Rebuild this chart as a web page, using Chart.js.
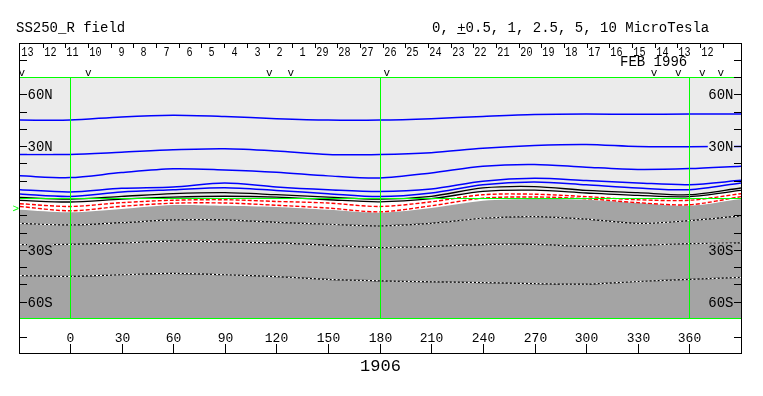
<!DOCTYPE html>
<html>
<head>
<meta charset="utf-8">
<script src="https://cdn.jsdelivr.net/npm/chart.js@4"></script>
<style>
  html, body { margin: 0; padding: 0; background: #fff; }
  #wrap { position: relative; width: 763px; height: 396px; }
</style>
</head>
<body>
<div id="wrap"><canvas id="map" width="763" height="396"></canvas></div>
<script>
// Carrington longitude samples (deg)
const lonPts = [-29, 0, 30, 60, 90, 120, 150, 180, 210, 240, 270, 300, 330, 360, 390];

// contour latitudes (deg), one value per lonPts entry
const blue1   = [45.1, 45.1, 46.9, 47.8, 47.1, 45.9, 45.1, 45.1, 45.9, 47.2, 48.3, 48.6, 48.4, 48.6, 48.6];
const blue2   = [25.2, 25.2, 26.5, 27.9, 28.5, 27.2, 25.2, 25.2, 26.2, 28.8, 30.4, 31.0, 29.8, 29.7, 29.8];
const blue3   = [12.8, 11.8, 14.7, 16.9, 16.2, 14.9, 12.8, 11.6, 14.5, 18.4, 19.4, 17.8, 16.5, 17.0, 18.4];
const blue4   = [4.8, 3.5, 5.6, 6.4, 8.7, 6.4, 4.8, 3.7, 5.2, 9.7, 11.4, 10.1, 8.7, 7.7, 10.2];
const blue5   = [2.3, 0.9, 3.5, 4.8, 6.0, 4.4, 2.5, 0.8, 2.9, 7.7, 9.3, 7.6, 5.8, 4.8, 8.7];
const black1  = [0.3, -0.7, 0.9, 2.5, 3.1, 1.9, 0.5, -0.7, 1.0, 5.8, 6.6, 4.4, 3.1, 1.9, 5.8];
const black2  = [-1.4, -2.3, -0.7, 0.5, 1.0, 0.5, -1.0, -2.2, -0.4, 3.8, 4.5, 2.9, 1.5, 0.8, 4.4];
const red1    = [-3.3, -4.9, -2.7, -1.3, -1.0, -2.0, -2.9, -4.9, -2.2, 1.9, 2.2, 0.8, -1.0, -1.3, 2.5];
const red2    = [-4.9, -7.4, -4.8, -3.0, -2.9, -4.2, -5.8, -8.0, -4.5, -0.1, 0.6, -0.4, -2.7, -3.9, 0.8];
const neutral = [-6.8, -8.3, -6.4, -4.1, -4.5, -5.2, -6.8, -8.5, -5.8, -1.6, -0.6, -1.0, -2.9, -4.5, -0.6];
const white1  = [-14.7, -15.6, -14.3, -12.7, -12.7, -14.1, -15.2, -16.2, -14.7, -11.7, -10.8, -12.2, -14.7, -13.1, -10.3];
const white2  = [-27.0, -26.8, -26.0, -25.0, -25.4, -26.0, -27.4, -28.7, -28.0, -27.0, -26.8, -28.0, -27.4, -26.4, -26.0];
const white3  = [-44.9, -45.3, -44.4, -43.6, -44.4, -45.5, -47.1, -47.9, -48.5, -48.9, -49.5, -49.8, -48.3, -47.1, -45.9];

// axes
const lonTicks = [0, 30, 60, 90, 120, 150, 180, 210, 240, 270, 300, 330, 360];
const latLabelVals = [60, 30, -30, -60];
const latLabelText = ['60N', '30N', '30S', '60S'];
const latMinor = [-50, -40, -20, -10, 10, 20, 40, 50];
const greenLon = [0, 180, 360];
const greenLat = [70, 0, -70];
const dayLabels = ['13','12','11','10','9','8','7','6','5','4','3','2','1','29','28','27',
                   '26','25','24','23','22','21','20','19','18','17','16','15','14','13','12'];
const markLon = [-28.0, 10.7, 115.9, 128.3, 184.2, 339.4, 353.5, 367.5, 378.2];
const b0Lat = -6.6;

const GREEN = '#00ff00';
const LIGHT = '#ebebeb';
const DARK = '#a4a4a4';
const MONO = '"Liberation Mono", "DejaVu Sans Mono", monospace';

function pts(arr) {
    return lonPts.map((lo, i) => ({ x: lo, y: arr[i] }));
}

function contour(arr, color, width, dash, extra) {
    return Object.assign({
        data: pts(arr),
        borderColor: color,
        borderWidth: width,
        borderDash: dash || [],
        pointRadius: 0,
        fill: false,
        tension: 0.3
    }, extra || {});
}

const datasets = [
    contour(blue1, '#0000ff', 1.5),
    contour(blue2, '#0000ff', 1.5),
    contour(blue3, '#0000ff', 1.5),
    contour(blue4, '#0000ff', 1.5),
    contour(blue5, '#0000ff', 1.5),
    contour(black1, '#000000', 1.3),
    contour(black2, '#000000', 1.3, null, { fill: 'end', backgroundColor: LIGHT }),
    contour(red1, '#ff0000', 1.4, [4, 2]),
    contour(red2, '#ff0000', 1.4, [4, 2]),
    contour(neutral, 'rgba(0,0,0,0)', 0, null, { fill: 'start', backgroundColor: DARK }),
    // white/black dotted lines in the negative region
    contour(white1, '#ffffff', 1.2, [2, 2]),
    contour(white1, '#000000', 1.2),
    contour(white2, '#ffffff', 1.2, [2, 2]),
    contour(white2, '#000000', 1.2),
    contour(white3, '#ffffff', 1.2, [2, 2]),
    contour(white3, '#000000', 1.2)
];

// Frame, axes and labels drawn with the chart's scales
const mapDecor = {
    id: 'mapDecor',
    afterDatasetsDraw(chart) {
        const { ctx, chartArea: a, scales: { x, y } } = chart;
        ctx.save();
        ctx.strokeStyle = GREEN;
        ctx.lineWidth = 1;
        ctx.beginPath();
        greenLon.forEach(v => {
            const px = Math.round(x.getPixelForValue(v)) + 0.5;
            ctx.moveTo(px, a.top);
            ctx.lineTo(px, a.bottom);
        });
        greenLat.forEach(v => {
            const py = Math.min(Math.round(y.getPixelForValue(v)) + 0.5, a.bottom - 0.5);
            ctx.moveTo(a.left, py);
            ctx.lineTo(a.right, py);
        });
        ctx.stroke();
        ctx.restore();
    },
    afterDraw(chart) {
        const { ctx, chartArea: a, scales: { x, y, day } } = chart;
        ctx.save();
        ctx.fillStyle = '#000';
        ctx.strokeStyle = '#000';
        ctx.lineWidth = 1;

        // latitude ticks and labels, both sides
        ctx.font = '14px ' + MONO;
        ctx.textBaseline = 'middle';
        ctx.beginPath();
        latMinor.forEach(v => {
            const py = Math.round(y.getPixelForValue(v)) + 0.5;
            ctx.moveTo(a.left, py); ctx.lineTo(a.left + 7, py);
            ctx.moveTo(a.right - 7, py); ctx.lineTo(a.right, py);
        });
        ctx.stroke();
        latLabelVals.forEach((v, i) => {
            const py = Math.round(y.getPixelForValue(v)) + 0.5;
            const txt = latLabelText[i];
            const w = ctx.measureText(txt).width;
            ctx.fillStyle = v > 0 ? LIGHT : DARK;
            ctx.fillRect(a.left + 7, py - 7, w + 1, 14);
            ctx.fillRect(a.right - 8 - w, py - 7, w + 1, 14);
            ctx.fillStyle = '#000';
            ctx.textAlign = 'left';
            ctx.fillText(txt, a.left + 7.5, py + 1);
            ctx.textAlign = 'right';
            ctx.fillText(txt, a.right - 7.5, py + 1);
            ctx.beginPath();
            ctx.moveTo(a.left, py); ctx.lineTo(a.left + 7, py);
            ctx.moveTo(a.right - 7, py); ctx.lineTo(a.right, py);
            ctx.stroke();
        });

        // outer frame
        ctx.strokeRect(19.5, 43.5, 722, 310);
        ctx.beginPath();
        [60.5, 337.5].forEach(py => {
            ctx.moveTo(20, py); ctx.lineTo(27, py);
            ctx.moveTo(734, py); ctx.lineTo(741, py);
        });
        ctx.moveTo(734, 77.5); ctx.lineTo(741, 77.5);
        ctx.stroke();

        // longitude axis (labels above upward ticks)
        ctx.font = '13px ' + MONO;
        ctx.textAlign = 'center';
        ctx.textBaseline = 'alphabetic';
        ctx.beginPath();
        lonTicks.forEach(v => {
            const px = Math.round(x.getPixelForValue(v)) + 0.5;
            ctx.fillText(String(v), px, 341.5);
            ctx.moveTo(px, 344); ctx.lineTo(px, 353);
        });
        ctx.stroke();

        // date strip (narrowed monospace digits)
        ctx.beginPath();
        dayLabels.forEach((d, k) => {
            const p1 = Math.round(day.getPixelForValue(k + 1)) + 0.5;
            ctx.moveTo(p1, 44); ctx.lineTo(p1, 48);
        });
        ctx.stroke();
        ctx.font = '13px ' + MONO;
        ctx.textAlign = 'right';
        dayLabels.forEach((d, k) => {
            const p0 = Math.round(day.getPixelForValue(k)) + 0.5;
            ctx.save();
            ctx.translate(p0 + 13, 55.5);
            ctx.scale(0.78, 1);
            ctx.fillText(d, 0, 0);
            ctx.restore();
        });
        ctx.font = '14px ' + MONO;
        ctx.textAlign = 'left';
        ctx.fillText('FEB 1996', 620, 66);

        // observation marks
        ctx.font = '11px ' + MONO;
        ctx.textAlign = 'center';
        markLon.forEach(v => ctx.fillText('v', x.getPixelForValue(v), 76));

        // sub-earth latitude marker
        ctx.fillStyle = GREEN;
        ctx.textAlign = 'right';
        ctx.textBaseline = 'middle';
        ctx.font = '11px ' + MONO;
        ctx.fillText('>', 19, y.getPixelForValue(b0Lat));

        // titles
        ctx.fillStyle = '#000';
        ctx.textBaseline = 'alphabetic';
        ctx.textAlign = 'left';
        ctx.font = '14px ' + MONO;
        ctx.fillText('SS250_R field', 16, 31.5);
        const head = '0, +0.5, 1, 2.5, 5, 10 MicroTesla';
        ctx.fillText(head, 432, 31.5);
        const plusX = 432 + ctx.measureText('0, ').width;
        const plusW = ctx.measureText('+').width;
        ctx.beginPath();
        ctx.moveTo(plusX, 33.5); ctx.lineTo(plusX + plusW, 33.5);
        ctx.stroke();

        ctx.font = '17px ' + MONO;
        ctx.textAlign = 'center';
        ctx.fillText('1906', 380.5, 371);
        ctx.restore();
    }
};

new Chart(document.getElementById('map'), {
    type: 'line',
    data: { datasets: datasets },
    options: {
        responsive: false,
        animation: false,
        events: [],
        layout: { padding: { left: 20, right: 22, top: 77, bottom: 77 } },
        plugins: {
            legend: { display: false },
            tooltip: { enabled: false },
            filler: { drawTime: 'beforeDatasetsDraw' }
        },
        scales: {
            x: { type: 'linear', min: -29, max: 390, display: false },
            y: { type: 'linear', min: -70, max: 70, display: false },
            day: { type: 'linear', axis: 'x', position: 'top', min: 0, max: 31.81, display: false }
        }
    },
    plugins: [mapDecor]
});
</script>
</body>
</html>
